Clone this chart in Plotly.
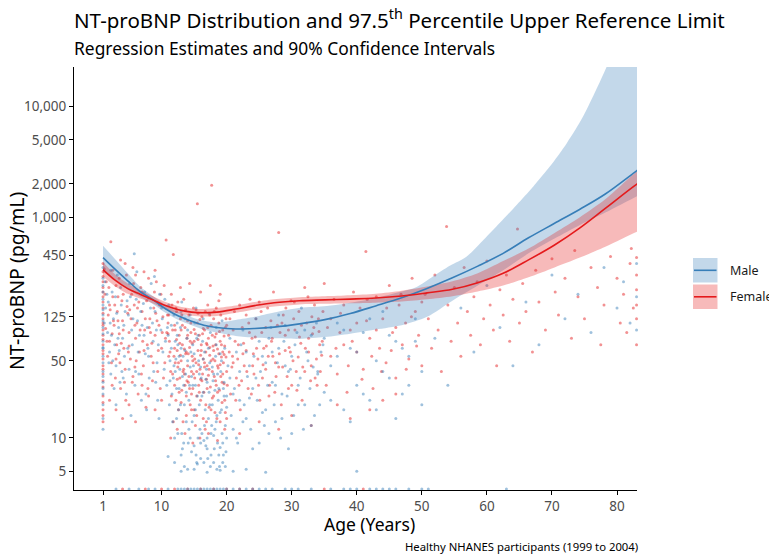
import plotly.graph_objects as go

# ---------------- data ----------------
fit_age = [1, 2.8, 4.8, 6.7, 8.7, 10.6, 12.6, 14.6, 16.5, 18.5, 21.4, 24.3, 27.3, 31.2, 35.1, 39, 42.9, 46.9,
           50.8, 54.7, 58.6, 62.5, 66.4, 70.4, 74.3, 78.2, 83.1, 85]

male_fit = [430, 340, 265, 212, 178, 148, 127, 114, 105, 100, 97, 98, 101, 108, 118, 134, 157, 186, 226, 282,
            360, 470, 650, 880, 1180, 1620, 2650, 3200]
male_lower = [320, 275, 225, 190, 163, 136, 117, 105, 96, 90, 84, 81, 80, 79, 82, 88, 96, 105, 125, 175, 240,
              330, 470, 640, 850, 1100, 1550, 1750]

male_upper_age = [1, 2.8, 4.8, 6.7, 8.7, 10.6, 12.6, 14.6, 16.5, 18.5, 21.4, 24.3, 27.3, 31.3, 35.4, 41.5, 46.6,
                  49.2, 51.7, 54.3, 56.9, 59.5, 62.0, 64.6, 67.1, 69.7, 72.3, 74.8, 78.4, 82, 85]
male_upper = [550, 420, 310, 235, 192, 160, 138, 124, 115, 111, 117, 125, 137, 151, 157, 178, 210, 233, 290,
              362, 440, 624, 889, 1295, 1888, 2885, 4700, 8185, 23000, 80000, 200000]

female_fit = [335, 270, 225, 200, 178, 158, 145, 138, 136, 138, 147, 158, 168, 175, 178, 181, 185, 193, 206,
              222, 255, 310, 410, 560, 800, 1200, 2000, 2350]
female_upper = [390, 305, 250, 218, 192, 170, 156, 149, 147, 150, 158, 170, 180, 188, 192, 196, 202, 215, 235,
                262, 310, 400, 520, 720, 1000, 1450, 2600, 3000]
female_lower = [290, 238, 202, 183, 165, 146, 134, 128, 126, 127, 136, 146, 155, 162, 164, 166, 168, 172, 180,
                192, 212, 240, 285, 350, 430, 540, 740, 820]

female_points = [
    (1, 320), (1, 210), (1, 150), (1, 110), (1, 85), (1, 62), (1, 45), (1, 33), (1, 24), (1, 170), (1, 95), (1, 70), (1, 18),
    (1, 260), (1, 120), (1, 52), (1, 38), (1, 14), (1.3, 200), (1.6, 75), (2, 160), (2.4, 30), (2.6, 115),
    (1.5, 260), (1.8, 130), (2, 75), (2.2, 600), (2.3, 48), (2.5, 190), (2.7, 105), (2.9, 35), (3, 240), (3.2, 140),
    (3.4, 58), (3.5, 88), (3.7, 28), (3.9, 175), (4, 115), (4.2, 65), (4.4, 42), (4.6, 300), (4.8, 135),
    (3.1, 70), (3.3, 190), (3.6, 48), (4.1, 95), (4.5, 22), (4.9, 60), (5.1, 145), (5.5, 32), (5.9, 105),
    (5, 90), (5.2, 52), (5.4, 200), (5.6, 36), (5.8, 160), (6, 80), (6.2, 110), (6.4, 25), (6.6, 60), (6.8, 230),
    (6.1, 50), (6.5, 170), (6.9, 38), (7.1, 75), (7.5, 120), (7.9, 28), (8.3, 90), (8.7, 48), (9.1, 135),
    (7, 140), (7.2, 45), (7.4, 95), (7.6, 19), (7.8, 70), (8, 185), (8.2, 120), (8.4, 55), (8.6, 33), (8.8, 150),
    (9, 85), (9.2, 260), (9.4, 40), (9.6, 105), (9.8, 28), (10, 65), (10.2, 125), (10.5, 48), (10.7, 620), (10.8, 90),
    (9.5, 62), (9.9, 200), (10.3, 35), (10.6, 80), (11.1, 55), (11.5, 24), (11.7, 95),
    (1, 290), (1, 230), (1, 190), (1, 135), (1, 105), (1, 78), (1, 58), (1, 42), (1, 29), (1, 21), (1, 16),
    (1.2, 340), (1.4, 98), (1.7, 55), (1.9, 230), (2.1, 145), (2.4, 88), (2.8, 160), (3, 52), (3.3, 115),
    (3.5, 280), (3.8, 72), (4.1, 200), (4.3, 32), (4.7, 155), (5, 68), (5.3, 120), (5.7, 250), (5.9, 44),
    (6.3, 150), (6.7, 95), (7, 210), (7.3, 62), (7.7, 175), (8.1, 100), (8.5, 72), (8.9, 210), (9.3, 115),
    (9.7, 160), (10.1, 90), (10.4, 240), (10.9, 130), (2, 22), (3, 18), (4, 15), (5, 20), (6, 14), (7, 30),
    (8, 24), (9, 18), (10, 22), (6, 300), (8, 280), (2.5, 330), (4.4, 380), (7.3, 320), (9, 330), (1, 380),
    (3.7, 410), (5.6, 350),
    (11, 110), (11.2, 75), (11.4, 40), (11.6, 160), (11.8, 460), (11.9, 55), (12, 30), (12.1, 95), (12.2, 22),
    (12.3, 140), (12.4, 62), (12.5, 44), (12.6, 18), (12.7, 85), (12.8, 35), (12.9, 120), (13, 50), (13.1, 27),
    (12, 65), (12.2, 150), (12.4, 34), (12.6, 48), (12.8, 72), (13, 21), (13.2, 105), (13.4, 42), (13.6, 30),
    (13.2, 70), (13.3, 14), (13.4, 180), (13.5, 38), (13.6, 100), (13.7, 58), (13.8, 24), (13.9, 80), (14, 45),
    (13.8, 60), (14, 115), (14.2, 36), (14.4, 75), (14.6, 25), (14.8, 50), (15, 18), (15.2, 88), (15.4, 40),
    (14.1, 32), (14.2, 130), (14.3, 66), (14.4, 20), (14.5, 90), (14.6, 40), (14.7, 55), (14.8, 28), (14.9, 150),
    (15, 75), (15.1, 35), (15.5, 1320), (15.3, 48), (15.4, 16), (15.5, 110), (15.6, 62), (15.7, 30), (15.8, 85),
    (15.6, 135), (15.8, 26), (16, 56), (16.2, 33), (16.4, 98), (16.6, 44), (16.8, 20), (17, 70), (17.2, 37),
    (15.9, 42), (16, 22), (16.1, 70), (16.2, 125), (16.3, 38), (16.4, 52), (16.5, 26), (16.6, 95), (16.7, 12),
    (16.8, 60), (16.9, 34), (17, 45), (17.1, 160), (17.2, 80), (17.3, 19), (17.4, 56), (17.5, 29), (17.6, 105),
    (17.4, 130), (17.6, 50), (17.8, 23), (18, 62), (18.2, 82), (18.4, 30), (18.6, 45), (18.8, 175), (19, 14),
    (17.7, 1950), (17.8, 40), (17.9, 68), (18, 24), (18.1, 140), (18.2, 50), (18.3, 33), (18.4, 88), (18.5, 15),
    (18.6, 64), (18.7, 43), (18.8, 110), (18.9, 27), (19, 75), (19.1, 36), (19.2, 54), (19.3, 21), (19.4, 95),
    (19.2, 70), (19.4, 38), (19.6, 57), (19.8, 100), (20.1, 30), (20.4, 60), (20.8, 44), (21, 95), (21.4, 22),
    (19.5, 48), (19.6, 31), (19.7, 68), (19.8, 17), (19.9, 120), (20, 40),
    (11, 88), (11.1, 130), (11.3, 60), (11.5, 200), (11.7, 38), (12, 105), (12.1, 48), (12.3, 78), (12.5, 170),
    (12.7, 26), (12.9, 56), (13, 95), (13.1, 130), (13.3, 40), (13.5, 64), (13.7, 145), (13.9, 33), (14, 85),
    (14.1, 58), (14.3, 28), (14.5, 110), (14.7, 72), (14.9, 38), (15, 96), (15.1, 52), (15.3, 145), (15.4, 24),
    (15.6, 78), (15.7, 46), (15.9, 118), (16, 34), (16.1, 62), (16.3, 88), (16.4, 15), (16.6, 48), (16.7, 140),
    (16.9, 72), (17, 28), (17.1, 100), (17.3, 42), (17.4, 66), (17.6, 18), (17.8, 85), (17.9, 52), (18, 120),
    (18.1, 36), (18.3, 70), (18.4, 150), (18.6, 26), (18.8, 58), (18.9, 92), (19, 46), (19.1, 130), (19.3, 32),
    (19.4, 60), (19.6, 84), (19.7, 22), (19.9, 54), (20, 105), (11.4, 10), (12.4, 12), (13.6, 11), (14.8, 9),
    (15.9, 10), (17.2, 11), (18.6, 9.5), (19.7, 12), (12.9, 230), (14.3, 250), (16, 210), (17.5, 240), (19, 200),
    (13.8, 16), (15.2, 13), (16.9, 14), (18.2, 17), (20, 15), (11.8, 14), (14.6, 18),
    (20.3, 85), (20.6, 25), (20.9, 55), (21.2, 140), (21.5, 35), (21.8, 70), (22.1, 18), (22.4, 100), (22.7, 45),
    (21.7, 52), (22, 160), (22.3, 33), (22.6, 72), (23.1, 40), (23.4, 110), (23.8, 25), (24.1, 58), (24.4, 82),
    (23, 62), (23.3, 28), (23.6, 180), (23.9, 80), (24.2, 38), (24.5, 120), (24.8, 52), (25.1, 22), (25.4, 90),
    (24.9, 30), (25.3, 140), (25.6, 46), (26.1, 68), (26.5, 24), (26.8, 115), (27.1, 55), (27.6, 36), (28.2, 90),
    (25.7, 65), (26, 42), (26.3, 150), (26.6, 30), (26.9, 75), (27.2, 210), (27.5, 48), (27.8, 105), (28, 727),
    (28.1, 58), (28.4, 20), (28.7, 130), (29, 85), (29.3, 36), (29.6, 66), (29.9, 175), (30.2, 50), (30.5, 95),
    (28.6, 44), (29.1, 150), (29.5, 28), (29.8, 60), (30.3, 120), (30.7, 40), (31.2, 82), (31.6, 22), (32.1, 65),
    (30.8, 27), (31.1, 140), (31.4, 72), (31.7, 44), (32, 230), (32.3, 110), (32.6, 60), (32.9, 33), (33.2, 88),
    (32.5, 190), (33, 45), (33.4, 100), (33.9, 30), (34.3, 70), (34.8, 140),
    (33.5, 160), (33.8, 52), (34.1, 120), (34.4, 40), (34.7, 75), (35, 250),
    (20.5, 120), (21, 48), (21.3, 75), (21.9, 30), (22.5, 58), (23, 130), (23.5, 90), (24, 45), (24.6, 65),
    (25, 170), (25.5, 35), (26, 100), (26.4, 55), (27, 80), (27.4, 26), (28, 44), (28.5, 110), (29, 62), (29.5, 95),
    (30, 30), (30.4, 170), (31, 54), (31.5, 105), (32, 40), (32.6, 80), (33.1, 125), (33.6, 35), (34.2, 92),
    (34.6, 56), (35.3, 30), (36, 120), (36.8, 65), (37.4, 90), (38, 160), (38.7, 45), (39.3, 75), (40, 110),
    (40.8, 34), (41.6, 180), (42.3, 55), (43, 95), (43.8, 40), (44.6, 150), (45.3, 62), (46, 100), (46.8, 200),
    (47.6, 42), (48.4, 125), (49.2, 68), (50, 170), (37, 20), (42, 18), (46, 25), (30, 16), (25, 14), (33, 13),
    (22, 11), (28, 12), (39, 15), (44, 22),
    (35.5, 100), (36, 55), (36.5, 180), (37, 38), (37.5, 135), (38, 70), (38.5, 26), (39, 95), (39.5, 210), (40, 60),
    (40.5, 150), (41, 42), (41.4, 489), (41.5, 115), (42, 80), (42.5, 28), (43, 190), (43.5, 65), (44, 120),
    (44.5, 48), (45, 240), (45.5, 90), (46, 35), (46.5, 160), (47, 70), (47.5, 110), (48, 52), (48.5, 280),
    (49, 140), (49.5, 85), (50, 45),
    (50.5, 200), (51, 120), (51.5, 65), (52, 300), (52.5, 95), (53, 40), (53.8, 824), (54, 160), (54.5, 75),
    (55, 230), (55.5, 110), (56, 55), (56.5, 350), (57, 140), (57.5, 85), (58, 190), (58.5, 260), (59, 70),
    (59.5, 120), (60, 400), (60.5, 160), (61, 95), (61.5, 45), (62, 220), (62.5, 130), (63, 300), (63.5, 75),
    (64, 180), (64.7, 780), (65, 110),
    (65.5, 250), (66, 140), (67, 60), (67.5, 330), (68, 170), (69, 95), (70, 420), (70.5, 210), (71, 130),
    (72, 280), (73, 80), (73.5, 500), (74, 190), (75, 120), (76, 350), (77, 230), (77.5, 70), (78, 160),
    (79, 440), (80, 280), (80.5, 110), (81, 200), (82, 380), (82.5, 150), (82.2, 520), (81.5, 90),
    (83, 430), (83, 300), (83, 220), (83, 160), (83, 120), (83, 70),
    (4, 3.45), (7.5, 3.45), (10, 3.45), (12, 3.45), (14, 3.45), (16, 3.45), (18, 3.45), (20, 3.45), (22, 3.45),
    (24, 3.45), (35, 3.45), (41, 3.45),
]

male_points = [
    (1, 280), (1, 180), (1, 130), (1, 100), (1, 75), (1, 55), (1, 40), (1, 28), (1, 20), (1, 240), (1.4, 150),
    (1, 160), (1, 65), (1, 32), (1, 12), (1.2, 110), (1.6, 200), (1.9, 48), (2.3, 85), (2.7, 28), (3.1, 135),
    (1.7, 90), (2, 60), (2.2, 38), (2.4, 210), (2.6, 120), (2.8, 70), (3, 45), (3.2, 300), (3.4, 100), (3.6, 32),
    (3.5, 62), (3.9, 40), (4.2, 105), (4.7, 175), (5, 42), (5.4, 95), (5.9, 30), (6.4, 60), (6.8, 140),
    (3.8, 160), (4, 80), (4.3, 55), (4.6, 25), (4.9, 130),
    (5.2, 190), (5.5, 70), (5.8, 466), (6, 40), (6.3, 115), (6.6, 85), (6.9, 22), (7.2, 165), (7.5, 58),
    (7.3, 85), (7.7, 18), (8, 55), (8.6, 110), (9.1, 32), (9.5, 70), (10, 150), (10.4, 42), (10.9, 100),
    (7.8, 100), (8.1, 35), (8.4, 250), (8.7, 75), (9, 140), (9.3, 48), (9.6, 15), (9.9, 95), (10.2, 60),
    (10.5, 180), (10.8, 30),
    (1, 350), (1, 210), (1, 145), (1, 115), (1, 88), (1, 66), (1, 48), (1, 36), (1, 25), (1, 15), (1.3, 260),
    (1.8, 170), (2.1, 110), (2.5, 50), (2.9, 190), (3.3, 80), (3.7, 230), (4.1, 35), (4.4, 140), (4.8, 65),
    (5.1, 250), (5.6, 120), (6.1, 180), (6.5, 38), (7, 105), (7.4, 210), (7.9, 65), (8.3, 150), (8.8, 40),
    (9.2, 95), (9.7, 200), (10.1, 120), (10.6, 75), (3, 20), (5.3, 16), (7.6, 25), (9.4, 22), (2.2, 330),
    (6.2, 320), (8.9, 290),
    (11, 85), (11.3, 50), (11.6, 25), (11.9, 130), (12.1, 40), (12.3, 15), (12.5, 70), (12.7, 28), (12.9, 100),
    (11.2, 20), (11.5, 65), (11.8, 35), (12, 10), (12.2, 52), (12.4, 85), (12.6, 18), (12.8, 42), (13, 65),
    (13.1, 11), (13.3, 55), (13.5, 20), (13.7, 38), (13.9, 80), (14.1, 9), (14.3, 30), (14.5, 60), (14.7, 14),
    (13.2, 8), (13.4, 30), (13.6, 120), (13.8, 14), (14, 50), (14.2, 22), (14.4, 10), (14.6, 36), (14.8, 70),
    (14.9, 45), (15.1, 110), (15.3, 7), (15.5, 24), (15.7, 50), (15.9, 12), (16.1, 35), (16.3, 75), (16.5, 9.5),
    (15, 16), (15.2, 30), (15.4, 6), (15.6, 85), (15.8, 20), (16, 44), (16.2, 11), (16.4, 26), (16.6, 60),
    (16.7, 18), (16.9, 42), (17.1, 6.5), (17.3, 26), (17.5, 90), (17.7, 13), (17.9, 33), (18.1, 8), (18.3, 55),
    (16.8, 8.5), (17, 32), (17.2, 15), (17.4, 48), (17.6, 7), (17.8, 20), (18, 38), (18.2, 12), (18.4, 70),
    (18.5, 16), (18.7, 22), (18.9, 5.5), (19.1, 40), (19.3, 11), (19.5, 28), (19.7, 65), (19.9, 7.5), (20, 19),
    (18.6, 9), (18.8, 28), (19, 17), (19.2, 50), (19.4, 6), (19.6, 24), (19.8, 13),
    (11.1, 160), (11.3, 33), (11.5, 105), (11.7, 14), (11.9, 45), (12.1, 75), (12.3, 28), (12.5, 11), (12.7, 55),
    (12.9, 20), (13, 140), (13.2, 36), (13.4, 9), (13.6, 62), (13.8, 26), (14, 95), (14.2, 12), (14.4, 44),
    (14.6, 7.5), (14.8, 30), (15, 58), (15.2, 18), (15.4, 80), (15.6, 10), (15.8, 38), (16, 6.5), (16.2, 24),
    (16.4, 52), (16.6, 13), (16.8, 34), (17, 8), (17.2, 65), (17.4, 20), (17.6, 11), (17.8, 44), (18, 6),
    (18.2, 27), (18.4, 14), (18.6, 38), (18.8, 7), (19, 58), (19.2, 18), (19.4, 9), (19.6, 32), (19.8, 5.5),
    (20, 24), (12, 6), (13.5, 5.5), (15.5, 5.8), (16.5, 6), (17.5, 5.5), (18.5, 5.2), (19.5, 7), (14, 5.2),
    (15, 8.5), (16, 9), (17, 10), (18, 10.5), (19, 8.2), (20, 10), (13, 7), (12.4, 110), (14.4, 130),
    (16.4, 120), (18.4, 100), (13.1, 170), (15.3, 150), (17.3, 135), (19.3, 115), (11, 6.8),
    (20.5, 35), (21, 12), (21.5, 60), (22, 22), (22.5, 95), (23, 15), (23.5, 45), (24, 28), (24.5, 120), (25, 9),
    (20.2, 45), (20.7, 16), (21.2, 28), (21.7, 9), (22.2, 70), (22.7, 20), (23.2, 36), (23.7, 12), (24.2, 55),
    (25.5, 55), (26, 18), (26.5, 80), (27, 32), (27.5, 14), (28, 65), (28.5, 25), (29, 105), (29.5, 40), (30, 11),
    (24.7, 22), (25.2, 40), (25.8, 13), (26.3, 30), (26.8, 100), (27.3, 20), (27.8, 48), (28.3, 10), (28.8, 75),
    (30.5, 70), (31, 30), (31.5, 150), (32, 20), (32.5, 50), (33, 85), (33.5, 16), (34, 38), (34.5, 60), (35, 26),
    (29.3, 24), (29.8, 42), (30.3, 16), (30.8, 90), (31.3, 35), (31.8, 12), (32.3, 60), (32.8, 28), (33.3, 44),
    (33.8, 110), (34.3, 20), (34.8, 70),
    (20.5, 80), (21, 25), (21.5, 10), (22, 40), (22.5, 14), (23, 60), (23.5, 23), (24, 8), (24.5, 35), (25, 75),
    (25.5, 17), (26, 48), (26.5, 11), (27, 60), (27.5, 30), (28, 130), (28.5, 15), (29, 45), (29.5, 8), (30, 55),
    (31, 20), (32, 95), (33, 13), (34, 40), (35, 80), (36, 22), (37, 55), (38, 95), (39, 14), (40, 60), (41, 25),
    (42, 120), (43, 18), (44, 40), (45, 85), (46, 15), (47, 65), (48, 30), (49, 75), (50, 20),
    (36, 45), (37, 110), (38, 18), (39, 65), (40, 30), (41, 90), (42, 22), (43, 50), (44, 140), (45, 35), (46, 75),
    (47, 25), (48, 55), (49, 120), (50, 40),
    (52, 80), (54, 30), (56, 150), (58, 60), (60, 240), (62, 100), (64, 45), (66, 170), (68, 70), (70, 300),
    (72, 120), (74, 200), (76, 90), (78, 350), (80, 150), (81, 260), (82, 110), (83, 380), (83, 190), (83, 95),
    (3, 3.45), (5, 3.45), (6.5, 3.45), (8, 3.45), (9, 3.45), (11, 3.45), (12.5, 3.45), (13, 3.45), (13.5, 3.45),
    (14, 3.45), (14.5, 3.45), (15, 3.45), (15.5, 3.45), (16, 3.45), (16.5, 3.45), (17, 3.45), (17.5, 3.45),
    (18, 3.45), (18.5, 3.45), (19, 3.45), (19.5, 3.45), (20, 3.45), (21, 3.45), (22, 3.45), (23, 3.45),
    (24, 3.45), (25, 3.45), (26, 3.45), (27, 3.45), (29, 3.45), (30, 3.45), (31, 3.45), (33, 3.45), (36, 3.45),
    (38, 3.45), (39, 3.45), (40, 3.45), (42, 3.45), (43, 3.45), (44, 3.45), (45, 3.45), (46, 3.45), (48, 3.45),
    (50, 3.45), (51, 3.45), (63, 3.45),
    (13, 5), (15, 5.2), (17, 4.9), (19, 5.1), (21, 5), (23, 5.2), (26, 4.9), (40, 5),
]

x_ticks = [1, 10, 20, 30, 40, 50, 60, 70, 80]
y_ticks = [5, 10, 50, 125, 450, 1000, 2000, 5000, 10000]
y_tick_labels = ["5", "10", "50", "125", "450", "1,000", "2,000", "5,000", "10,000"]

# ---------------- style ----------------
BLUE = "#377EB8"
RED = "#E41A1C"
BLUE_FILL = "rgba(55,126,184,0.30)"
RED_FILL = "rgba(228,26,28,0.30)"
FONT = "Noto Sans"

OFF = 8                      # page body margin
W, H = 777 - OFF, 558 - OFF  # figure size
# panel edges in page pixels
PL, PR, PT, PB = 74, 637, 67, 490


def fx(px):
    return (px - PL) / (PR - PL)


def fy(py):
    return (PB - py) / (PB - PT)


fig = go.Figure()

# points
for pts, col in ((female_points, "rgba(228,26,28,0.48)"), (male_points, "rgba(55,126,184,0.48)")):
    fig.add_trace(go.Scatter(
        x=[p[0] for p in pts], y=[p[1] for p in pts], mode="markers",
        marker=dict(size=3, color=col, line=dict(width=0)),
        showlegend=False, hoverinfo="skip", cliponaxis=False))

# ribbons
ribbons = ((fit_age, male_lower, male_upper_age, male_upper, BLUE_FILL),
           (fit_age, female_lower, fit_age, female_upper, RED_FILL))
for xlo, lo, xup, up, fill in ribbons:
    fig.add_trace(go.Scatter(x=xlo, y=lo, mode="lines", line=dict(width=0, shape="spline", smoothing=0.8),
                             showlegend=False, hoverinfo="skip"))
    fig.add_trace(go.Scatter(x=xup, y=up, mode="lines", line=dict(width=0, shape="spline", smoothing=0.8),
                             fill="tonexty", fillcolor=fill, showlegend=False, hoverinfo="skip"))

# fitted lines
for vals, col in ((male_fit, BLUE), (female_fit, RED)):
    fig.add_trace(go.Scatter(x=fit_age, y=vals, mode="lines", line=dict(width=1.6, color=col, shape="spline"),
                             showlegend=False, hoverinfo="skip"))

# custom legend (ggplot-style keys)
shapes = []
annotations = []
for i, (name, fill, col) in enumerate((("Male", BLUE_FILL, BLUE), ("Female", RED_FILL, RED))):
    top = 258 + i * 26.5
    shapes.append(dict(type="rect", xref="paper", yref="paper", x0=fx(693), x1=fx(717.5),
                       y0=fy(top + 24.5), y1=fy(top), fillcolor=fill, line=dict(width=0), layer="above"))
    shapes.append(dict(type="line", xref="paper", yref="paper", x0=fx(694), x1=fx(716.5),
                       y0=fy(top + 12.3), y1=fy(top + 12.3), line=dict(color=col, width=1.6), layer="above"))
    annotations.append(dict(text=name, xref="paper", yref="paper", x=fx(728), y=fy(top + 12.3),
                            xanchor="left", yanchor="middle", showarrow=False,
                            font=dict(family=FONT, size=12.5, color="#1a1a1a")))

annotations += [
    dict(text="NT-proBNP Distribution and 97.5<sup>th</sup> Percentile Upper Reference Limit",
         xref="paper", yref="paper", x=fx(72), y=fy(19.5), xanchor="left", yanchor="middle",
         showarrow=False, font=dict(family=FONT, size=20.5, color="black")),
    dict(text="Regression Estimates and 90% Confidence Intervals",
         xref="paper", yref="paper", x=fx(72), y=fy(48), xanchor="left", yanchor="middle",
         showarrow=False, font=dict(family=FONT, size=17.4, color="black")),
    dict(text="Healthy NHANES participants (1999 to 2004)",
         xref="paper", yref="paper", x=fx(640), y=fy(546), xanchor="right", yanchor="middle",
         showarrow=False, font=dict(family=FONT, size=11.3, color="black")),
    dict(text="Age (Years)", xref="paper", yref="paper", x=fx(369), y=fy(523.5), xanchor="center",
         yanchor="middle", showarrow=False, font=dict(family=FONT, size=17.5, color="black")),
    dict(text="NT-proBNP (pg/mL)", xref="paper", yref="paper", x=fx(16), y=fy(281), xanchor="center",
         yanchor="middle", textangle=-90, showarrow=False, font=dict(family=FONT, size=19.5, color="black")),
]

fig.update_layout(
    width=W, height=H,
    margin=dict(l=PL - OFF, r=W - (PR - OFF), t=PT - OFF, b=H - (PB - OFF), autoexpand=False),
    paper_bgcolor="white", plot_bgcolor="white",
    font=dict(family=FONT),
    showlegend=False,
    shapes=shapes, annotations=annotations,
    xaxis=dict(range=[-3.46, 83.07], tickvals=x_ticks, showgrid=False, zeroline=False,
               showline=True, linecolor="black", linewidth=1.1, ticks="outside", ticklen=4,
               tickcolor="black", tickwidth=1.1, tickfont=dict(family=FONT, size=13.5, color="#4d4d4d")),
    yaxis=dict(type="log", range=[0.5286, 4.36], tickvals=y_ticks, ticktext=y_tick_labels,
               showgrid=False, zeroline=False, showline=True, linecolor="black", linewidth=1.1,
               ticks="outside", ticklen=4, tickcolor="black", tickwidth=1.1,
               tickfont=dict(family=FONT, size=13.5, color="#4d4d4d")),
)

fig.write_html("out.html")
